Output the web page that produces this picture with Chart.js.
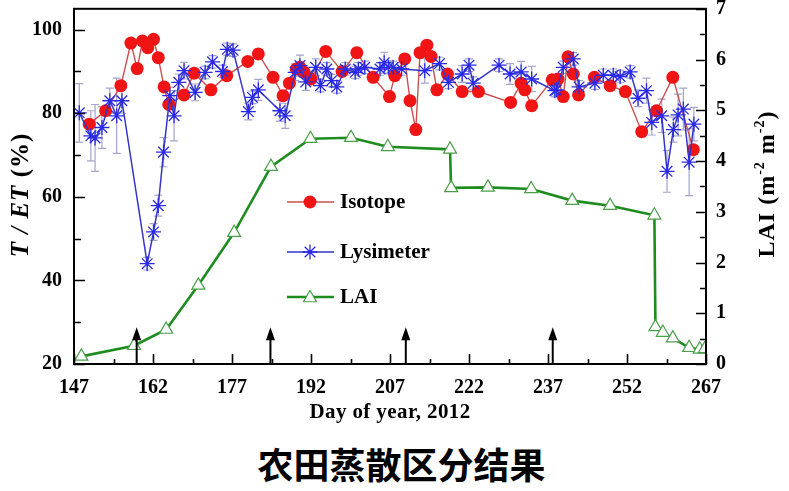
<!DOCTYPE html>
<html>
<head>
<meta charset="utf-8">
<script src="https://cdn.jsdelivr.net/npm/chart.js@4/dist/chart.umd.min.js"></script>
<style>
  body { margin: 0; background: #fff; }
  #wrap { position: relative; width: 789px; height: 491px; }
  #caption { position: absolute; left: 7px; top: 440px; width: 789px; text-align: center;
    font: bold 36px "Noto Sans CJK SC"; line-height: 46px; color: #000; }
</style>
</head>
<body>
<div id="wrap">
  <canvas id="c" width="789" height="430"></canvas>
  <div id="caption">农田蒸散区分结果</div>
</div>
<script>
// Isotope T/ET (%)
const isoDay = [149.9, 153.0, 155.9, 157.8, 159.0, 160.0, 161.0, 162.1, 163.0, 164.1, 165.0, 167.9, 169.8, 173.0, 176.0,
  180.0, 182.0, 184.8, 186.7, 187.9, 189.2, 189.9, 190.7, 192.0, 194.8, 197.9, 200.7, 203.8, 206.9, 207.9, 209.8,
  210.8, 211.9, 212.7, 214.0, 214.8, 215.9, 217.9, 220.7, 223.8, 229.9, 231.9, 232.6, 233.9, 237.8, 238.9, 239.9,
  240.8, 241.8, 242.8, 245.8, 248.8, 251.7, 254.8, 257.6, 260.7, 264.6];
const isoVal = [77.4, 80.6, 86.6, 96.8, 90.7, 97.3, 95.7, 97.7, 93.3, 86.3, 82.1, 84.4, 89.6, 85.6, 89.0,
  92.4, 94.2, 88.6, 84.2, 87.2, 90.6, 91.0, 89.8, 88.2, 94.8, 90.0, 94.5, 88.6, 84.0, 89.0, 93.0,
  83.0, 76.1, 94.5, 96.3, 93.6, 85.6, 89.4, 85.2, 85.2, 82.6, 87.2, 85.6, 81.8, 88.0, 88.2, 84.0,
  93.5, 89.4, 84.4, 88.6, 86.6, 85.2, 75.6, 80.6, 88.6, 71.3];

// Lysimeter T/ET (%) with error
const lysDay = [148.0, 150.2, 151.0, 152.3, 153.8, 155.1, 156.1, 160.9, 162.1, 163.0, 164.0, 165.2, 166.0, 166.9,
  167.9, 170.0, 171.9, 173.3, 175.2, 176.1, 177.2, 180.1, 180.9, 182.0, 186.1, 187.1, 189.0, 189.9, 191.0, 192.9,
  193.8, 195.0, 195.9, 196.9, 198.5, 200.4, 201.0, 202.2, 205.1, 205.9, 206.7, 207.6, 209.2, 213.6, 216.4, 218.1,
  220.7, 222.0, 222.8, 227.7, 229.8, 231.9, 233.9, 238.3, 238.6, 239.9, 241.8, 242.9, 245.9, 247.5, 249.4, 250.7,
  252.6, 254.1, 255.7, 256.7, 258.6, 259.6, 260.8, 261.7, 262.7, 263.8, 264.7];
const lysVal = [80.1, 74.6, 74.1, 76.6, 83.0, 79.4, 83.0, 44.0, 51.6, 57.9, 70.7, 84.2, 79.4, 87.4,
  90.2, 85.0, 89.8, 92.3, 90.0, 95.3, 95.1, 80.4, 83.8, 85.6, 80.6, 79.4, 89.8, 91.4, 87.5, 91.0,
  86.6, 90.6, 87.8, 86.3, 90.6, 89.8, 90.6, 91.0, 90.6, 92.1, 91.0, 91.0, 90.6, 90.2, 91.9, 87.4,
  89.4, 91.5, 87.2, 91.5, 89.4, 89.9, 88.2, 85.4, 85.6, 91.0, 93.0, 86.3, 87.2, 89.1, 89.1, 88.8,
  89.9, 83.6, 85.4, 77.8, 79.4, 66.1, 76.1, 79.6, 81.0, 68.3, 77.4];
const lysErr = [7, 6, 8, 5, 3, 9, 3, 1.5, 2, 2.5, 3.5, 2, 6, 2,
  2, 2, 1.5, 1.5, 1.5, 1.5, 1.5, 2, 1.5, 2.5, 2.5, 3, 2, 2.5, 2, 2,
  1.5, 1.5, 1.5, 1.5, 1.5, 1.5, 1.5, 1.5, 1.5, 2.5, 1.5, 1.5, 1.5, 3, 1.5, 1.5,
  2, 1.5, 1.5, 1.5, 2.5, 2.5, 3, 1.5, 1.5, 1.5, 1.5, 1.5, 1.5, 1.5, 1.5, 1.5,
  1.5, 2, 3, 3, 4, 5, 3, 5, 5, 8, 4];

// LAI (right axis)
const laiDay = [148.4, 158.4, 164.5, 170.6, 177.4, 184.4, 191.9, 199.6, 206.6, 218.4, 218.6, 225.6, 233.8,
  241.6, 248.8, 257.2, 257.4, 258.8, 260.7, 263.8, 265.8, 266.8];
const laiVal = [0.15, 0.36, 0.68, 1.55, 2.59, 3.89, 4.44, 4.46, 4.28, 4.23, 3.47, 3.48, 3.45,
  3.22, 3.12, 2.93, 0.73, 0.62, 0.51, 0.32, 0.29, 0.30];

// arrows marking events
const arrowDay = [158.9, 184.3, 210.0, 237.9];
const arrowTop = 28.8;

const xTicks = [147, 162, 177, 192, 207, 222, 237, 252, 267];
const yTicks = [20, 40, 60, 80, 100];
const y2Ticks = [0, 1, 2, 3, 4, 5, 6, 7];

const serif = '"Liberation Serif", "Times New Roman", serif';
const tickFont = { family: serif, size: 20, weight: 'bold' };

function pts(days, vals) {
  return days.map((d, i) => ({ x: d, y: vals[i] }));
}

function noPad(s) {
  s.paddingLeft = 0; s.paddingRight = 0; s.paddingTop = 0; s.paddingBottom = 0;
}

function drawStar(ctx, x, y, r) {
  ctx.beginPath();
  for (let k = 0; k < 4; k++) {
    const a = k * Math.PI / 4;
    ctx.moveTo(x - Math.cos(a) * r, y - Math.sin(a) * r);
    ctx.lineTo(x + Math.cos(a) * r, y + Math.sin(a) * r);
  }
  ctx.stroke();
}

function drawTriangle(ctx, x, y, r) {
  let a = 0;
  ctx.beginPath();
  ctx.moveTo(x + Math.sin(a) * r, y - Math.cos(a) * r);
  a += 2 * Math.PI / 3;
  ctx.lineTo(x + Math.sin(a) * r, y - Math.cos(a) * r);
  a += 2 * Math.PI / 3;
  ctx.lineTo(x + Math.sin(a) * r, y - Math.cos(a) * r);
  ctx.closePath();
  ctx.fill();
  ctx.stroke();
}

// draws mixed-font text centred on the origin: [text, font, yOffset]
function drawParts(ctx, parts, spacing) {
  ctx.letterSpacing = spacing + 'px';
  let w = 0;
  parts.forEach(p => { ctx.font = p[1]; w += ctx.measureText(p[0]).width; });
  let cx = -w / 2;
  parts.forEach(p => {
    ctx.font = p[1];
    ctx.fillText(p[0], cx, p[2] || 0);
    cx += ctx.measureText(p[0]).width;
  });
  ctx.letterSpacing = '0px';
}

const extras = {
  id: 'extras',
  beforeDatasetsDraw(chart) {
    const ctx = chart.ctx, x = chart.scales.x, y = chart.scales.y;
    ctx.save();
    ctx.strokeStyle = '#a4a4cf';
    ctx.lineWidth = 1.2;
    lysDay.forEach((d, i) => {
      const px = x.getPixelForValue(d);
      const top = y.getPixelForValue(lysVal[i] + lysErr[i]);
      const bot = y.getPixelForValue(lysVal[i] - lysErr[i]);
      ctx.beginPath();
      ctx.moveTo(px, top); ctx.lineTo(px, bot);
      ctx.moveTo(px - 4, top); ctx.lineTo(px + 4, top);
      ctx.moveTo(px - 4, bot); ctx.lineTo(px + 4, bot);
      ctx.stroke();
    });
    ctx.restore();
  },
  afterDraw(chart) {
    const ctx = chart.ctx, a = chart.chartArea;
    const x = chart.scales.x, y = chart.scales.y, y2 = chart.scales.y2;
    ctx.save();

    // arrows
    ctx.fillStyle = '#000';
    ctx.strokeStyle = '#000';
    ctx.lineWidth = 2;
    arrowDay.forEach(d => {
      const px = x.getPixelForValue(d);
      const tip = y.getPixelForValue(arrowTop);
      ctx.beginPath();
      ctx.moveTo(px, a.bottom); ctx.lineTo(px, tip + 8);
      ctx.stroke();
      ctx.beginPath();
      ctx.moveTo(px, tip); ctx.lineTo(px - 4.5, tip + 13); ctx.lineTo(px + 4.5, tip + 13);
      ctx.closePath();
      ctx.fill();
    });

    // frame and inward ticks
    ctx.lineWidth = 2;
    ctx.strokeRect(a.left, a.top, a.right - a.left, a.bottom - a.top);
    ctx.lineWidth = 1.6;
    ctx.beginPath();
    for (let v = 147; v <= 267; v += 7.5) {
      const px = Math.round(x.getPixelForValue(v)) + 0.5;
      const len = (v - 147) % 15 === 0 ? 10 : 5;
      ctx.moveTo(px, a.bottom); ctx.lineTo(px, a.bottom - len);
    }
    for (let v = 20; v <= 100; v += 10) {
      const py = Math.round(y.getPixelForValue(v)) + 0.5;
      const len = v % 20 === 0 ? 11 : 7;
      ctx.moveTo(a.left, py); ctx.lineTo(a.left + len, py);
    }
    for (let v = 0; v <= 7; v += 0.5) {
      const py = Math.round(y2.getPixelForValue(v)) + 0.5;
      const len = v % 1 === 0 ? 10 : 6;
      ctx.moveTo(a.right, py); ctx.lineTo(a.right - len, py);
    }
    ctx.stroke();

    // axis titles
    ctx.fillStyle = '#000';
    ctx.textBaseline = 'middle';
    ctx.textAlign = 'left';
    ctx.save();
    ctx.translate((a.left + a.right) / 2, 413);
    drawParts(ctx, [['Day of year, 2012', 'bold 21px ' + serif]], 0.4);
    ctx.restore();

    ctx.save();
    ctx.translate(22, 195);
    ctx.rotate(-Math.PI / 2);
    drawParts(ctx, [['T / ET ', 'italic bold 25px ' + serif], ['(%)', 'bold 25px ' + serif]], 1);
    ctx.restore();

    ctx.save();
    ctx.translate(768, 184);
    ctx.rotate(-Math.PI / 2);
    const big = 'bold 24px ' + serif, sup = 'bold 14px ' + serif;
    drawParts(ctx, [['LAI (m', big], ['-2', sup, -8], [' m', big], ['-2', sup, -8], [')', big]], 1);
    ctx.restore();

    // legend
    const rows = [
      { label: 'Isotope', y: 202, color: '#c85050', lw: 1.4, mark: 'circle' },
      { label: 'Lysimeter', y: 252, color: '#3535c8', lw: 1.5, mark: 'star' },
      { label: 'LAI', y: 297, color: '#1f8c1f', lw: 2.6, mark: 'triangle' }
    ];
    rows.forEach(r => {
      ctx.strokeStyle = r.color;
      ctx.lineWidth = r.lw;
      ctx.beginPath();
      ctx.moveTo(287, r.y); ctx.lineTo(334, r.y);
      ctx.stroke();
      if (r.mark === 'circle') {
        ctx.fillStyle = '#f01414';
        ctx.beginPath(); ctx.arc(310, r.y, 6.5, 0, Math.PI * 2); ctx.fill();
      } else if (r.mark === 'star') {
        ctx.strokeStyle = '#2a2ae6'; ctx.lineWidth = 1.3;
        drawStar(ctx, 310, r.y, 7.5);
      } else {
        ctx.fillStyle = '#fff'; ctx.strokeStyle = '#4a9e4a'; ctx.lineWidth = 1.2;
        drawTriangle(ctx, 310, r.y + 1, 7.5);
      }
      ctx.fillStyle = '#000';
      ctx.font = 'bold 21px ' + serif;
      ctx.fillText(r.label, 340, r.y + 1);
    });
    ctx.restore();
  }
};

new Chart(document.getElementById('c').getContext('2d'), {
  type: 'line',
  data: {
    datasets: [
      {
        label: 'Lysimeter', data: pts(lysDay, lysVal), yAxisID: 'y',
        borderColor: '#3535c8', borderWidth: 1.5, fill: false, tension: 0,
        pointStyle: 'star', pointRadius: 7.5, pointBorderColor: '#2a2ae6', pointBorderWidth: 1.3
      },
      {
        label: 'Isotope', data: pts(isoDay, isoVal), yAxisID: 'y',
        borderColor: '#c85050', borderWidth: 1.4, fill: false, tension: 0,
        pointStyle: 'circle', pointRadius: 6.5, pointBackgroundColor: '#f01414',
        pointBorderColor: '#f01414', pointBorderWidth: 0
      },
      {
        label: 'LAI', data: pts(laiDay, laiVal), yAxisID: 'y2',
        borderColor: '#1f8c1f', borderWidth: 2.6, fill: false, tension: 0,
        pointStyle: 'triangle', pointRadius: 7.5, pointBackgroundColor: '#fff',
        pointBorderColor: '#4a9e4a', pointBorderWidth: 1.2
      }
    ]
  },
  options: {
    responsive: false,
    animation: false,
    devicePixelRatio: 1,
    layout: { padding: { top: 8, left: 0, right: 0, bottom: 0 } },
    plugins: { legend: { display: false }, tooltip: { enabled: false } },
    scales: {
      x: {
        type: 'linear', min: 147, max: 267,
        grid: { display: false, drawTicks: false }, border: { display: false },
        ticks: { font: tickFont, color: '#000', padding: 12, maxRotation: 0, autoSkip: false },
        afterBuildTicks(s) { s.ticks = xTicks.map(v => ({ value: v })); },
        afterFit(s) { s.height = 66; noPad(s); }
      },
      y: {
        position: 'left', min: 20, max: 105,
        grid: { display: false, drawTicks: false }, border: { display: false },
        ticks: { font: tickFont, color: '#000', padding: 12 },
        afterBuildTicks(s) { s.ticks = yTicks.map(v => ({ value: v })); },
        afterFit(s) { s.width = 74; noPad(s); }
      },
      y2: {
        position: 'right', min: 0, max: 7,
        grid: { display: false, drawTicks: false }, border: { display: false },
        ticks: { font: tickFont, color: '#000', padding: 10 },
        afterBuildTicks(s) { s.ticks = y2Ticks.map(v => ({ value: v })); },
        afterFit(s) { s.width = 83; noPad(s); }
      }
    }
  },
  plugins: [extras]
});
</script>
</body>
</html>
